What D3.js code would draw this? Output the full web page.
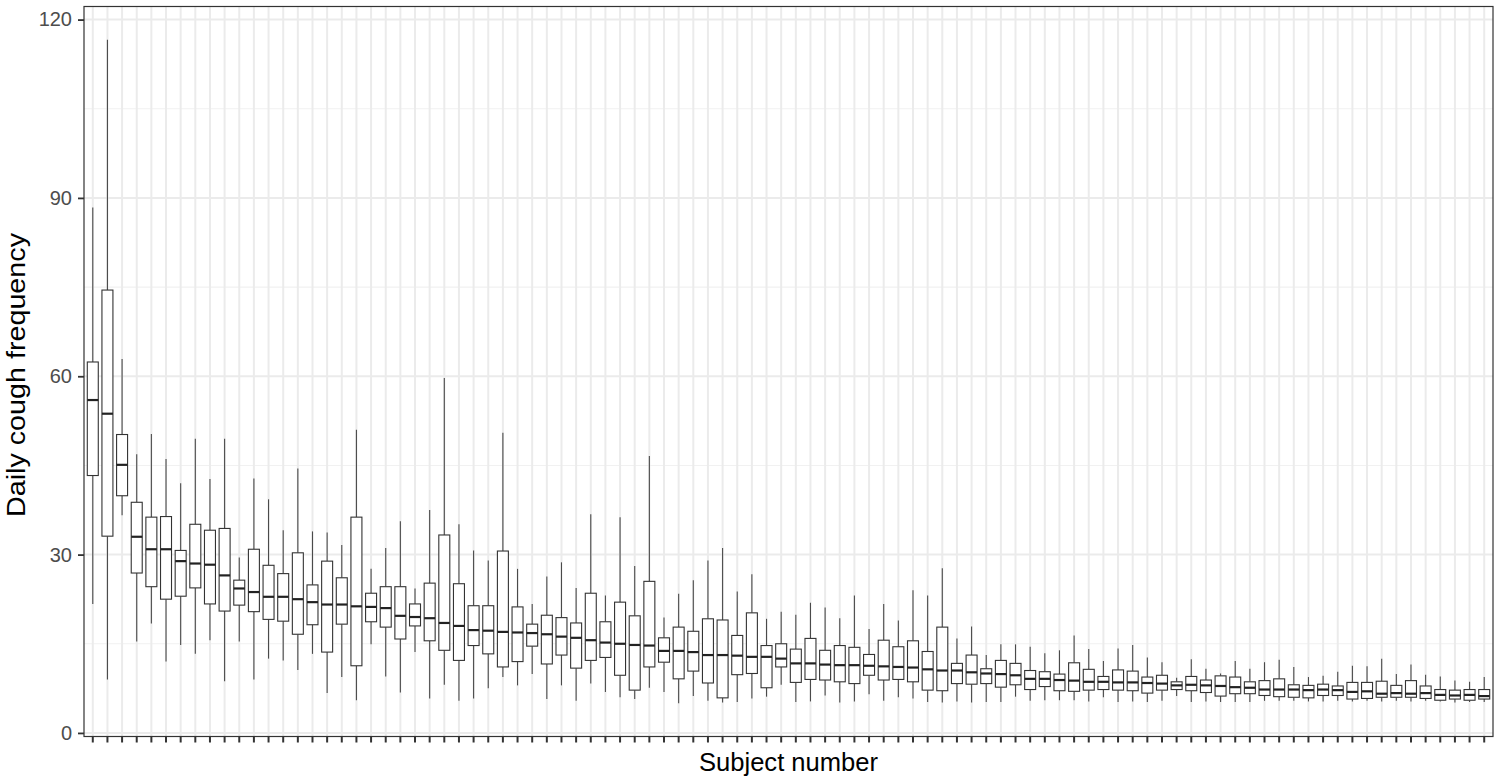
<!DOCTYPE html>
<html>
<head>
<meta charset="utf-8">
<script src="https://cdn.jsdelivr.net/npm/d3@7"></script>
<style>
  html, body { margin: 0; padding: 0; background: #fff; }
  svg { display: block; font-family: "Liberation Sans", Arial, Helvetica, sans-serif; }
</style>
</head>
<body>
<svg id="chart" width="1499" height="784"></svg>
<script>
// ---------------- DATA ----------------
const subjects = [1,2,3,4,5,6,7,8,9,10,11,12,13,14,15,16,17,18,19,20,21,22,23,24,25,26,27,28,29,30,
  31,32,33,34,35,36,37,38,39,40,41,42,43,44,45,46,47,48,49,50,51,52,53,54,55,56,57,58,59,60,
  61,62,63,64,65,66,67,68,69,70,71,72,73,74,75,76,77,78,79,80,81,82,83,84,85,86,87,88,89,90,
  91,92,93,94,95,96];

const whiskerLow = [21.7,9.0,36.6,15.4,18.4,12.0,14.8,13.3,15.6,8.7,15.4,9.0,12.5,12.2,10.6,13.3,6.7,9.4,5.5,14.9,
  9.5,6.8,13.6,5.8,8.1,5.4,5.8,7.5,9.4,8.0,9.9,5.7,8.0,5.4,8.3,6.9,6.0,5.7,7.6,6.9,
  5.0,6.2,5.4,5.1,5.2,5.8,6.1,8.1,5.2,5.3,6.3,5.1,5.3,6.5,5.4,6.0,5.8,5.2,5.1,5.3,
  5.1,5.2,5.2,6.1,5.4,5.5,5.5,5.5,5.3,6.0,5.2,5.3,5.2,5.4,6.2,5.2,5.3,5.2,5.2,5.2,
  5.4,5.4,5.4,5.3,5.3,5.4,5.3,5.4,5.3,5.4,5.3,5.4,5.3,5.1,5.2,5.2];

const q1 = [43.3,33.1,39.9,26.9,24.6,22.5,23.0,24.4,21.7,20.5,21.5,20.4,19.1,18.8,16.6,18.2,13.6,18.3,11.3,18.7,
  17.8,15.8,18.0,15.5,13.9,12.2,14.7,13.3,11.1,12.0,14.6,11.6,13.1,10.9,12.2,12.7,9.7,7.2,11.1,11.9,
  9.1,10.4,8.4,5.9,9.8,10.0,7.6,11.1,8.5,9.0,8.9,8.6,8.3,9.7,8.9,9.0,8.6,7.2,7.1,8.3,
  8.2,8.3,7.7,8.1,7.3,7.8,7.1,7.0,7.2,7.3,7.2,7.1,6.7,7.2,7.3,7.1,6.8,6.2,6.6,6.6,
  6.3,6.1,6.0,5.9,6.3,6.3,5.7,5.8,6.0,6.0,6.0,5.8,5.5,5.7,5.5,5.7];

const median = [56.0,53.7,45.1,33.0,30.9,30.9,28.9,28.5,28.3,26.5,24.3,23.7,22.9,22.9,22.5,22.0,21.6,21.6,21.3,21.2,
  21.0,19.7,19.5,19.3,18.5,18.0,17.3,17.2,17.0,16.9,16.8,16.6,16.2,16.0,15.6,15.2,15.0,14.8,14.7,13.8,
  13.8,13.6,13.1,13.1,13.0,12.8,12.8,12.5,11.7,11.7,11.5,11.4,11.4,11.3,11.2,11.1,11.0,10.7,10.5,10.5,
  10.2,10.0,9.9,9.7,9.1,9.1,8.9,8.8,8.6,8.6,8.5,8.5,8.4,8.3,8.0,8.1,8.0,7.9,7.7,7.6,
  7.3,7.3,7.3,7.2,7.3,7.2,6.9,7.0,6.6,6.7,6.6,6.7,6.4,6.3,6.4,6.2];

const q3 = [62.4,74.5,50.2,38.8,36.3,36.4,30.7,35.1,34.1,34.4,25.7,30.9,28.2,26.8,30.3,24.9,28.9,26.1,36.3,23.5,
  24.6,24.6,21.7,25.2,33.3,25.1,21.4,21.4,30.6,21.2,18.3,19.8,19.4,18.5,23.5,18.7,22.0,19.7,25.5,16.0,
  17.8,17.1,19.2,19.0,16.4,20.2,14.7,15.0,14.1,15.9,13.9,14.7,14.4,13.2,15.6,14.5,15.5,13.7,17.8,11.7,
  13.1,10.8,12.2,11.7,10.5,10.3,9.9,11.8,10.7,9.5,10.6,10.4,9.4,9.7,8.6,9.5,8.9,9.6,9.4,8.6,
  8.8,9.1,8.1,8.0,8.2,7.9,8.5,8.5,8.7,8.0,8.8,7.9,7.3,7.2,7.3,7.3];

const whiskerHigh = [88.4,116.6,62.9,46.9,50.3,46.1,42.0,49.5,42.7,49.5,29.5,42.8,39.3,34.1,44.5,33.9,33.7,31.6,51.0,27.6,
  31.1,35.6,24.3,37.5,59.7,35.1,30.7,29.0,50.5,27.6,21.7,26.3,28.7,24.4,36.8,23.1,36.3,28.1,46.6,19.4,
  23.4,25.7,29.0,31.1,23.8,26.7,19.2,20.4,19.9,21.9,21.1,19.3,23.1,17.5,21.7,18.9,24.0,23.1,27.7,15.9,
  17.9,13.1,14.9,14.9,14.5,13.4,13.9,16.4,14.1,12.1,14.2,14.8,12.7,11.9,9.3,12.4,10.8,10.0,12.1,10.8,
  11.9,12.3,11.1,9.4,9.6,10.3,11.3,11.2,12.5,9.9,11.5,9.8,9.5,8.8,8.6,9.4];

const yTicks = [0, 30, 60, 90, 120];
const yMinorTicks = [15, 45, 75, 105];
const xTitle = "Subject number";
const yTitle = "Daily cough frequency";

// ---------------- LAYOUT ----------------
const svg = d3.select("#chart");
const panel = { left: 84, right: 1493, top: 6.5, bottom: 736.5 };

const x = d3.scaleBand()
  .domain(subjects)
  .range([panel.left, panel.right])
  .paddingInner(0)
  .paddingOuter(0.1);

const y = d3.scaleLinear()
  .domain([-0.6, 122.2])
  .range([panel.bottom, panel.top]);

const boxes = subjects.map((s, i) => ({
  s, lo: whiskerLow[i], q1: q1[i], med: median[i], q3: q3[i], hi: whiskerHigh[i]
}));

// panel background
svg.append("rect")
  .attr("x", panel.left).attr("y", panel.top)
  .attr("width", panel.right - panel.left).attr("height", panel.bottom - panel.top)
  .attr("fill", "#ffffff");

// grid
const grid = svg.append("g");
grid.selectAll("line.minor").data(yMinorTicks).join("line")
  .attr("x1", panel.left).attr("x2", panel.right)
  .attr("y1", d => y(d)).attr("y2", d => y(d))
  .attr("stroke", "#f1f1f1").attr("stroke-width", 1.1);
grid.selectAll("line.majory").data(yTicks).join("line")
  .attr("x1", panel.left).attr("x2", panel.right)
  .attr("y1", d => y(d)).attr("y2", d => y(d))
  .attr("stroke", "#ebebeb").attr("stroke-width", 2);
grid.selectAll("line.majorx").data(subjects).join("line")
  .attr("x1", d => x(d) + x.bandwidth() / 2).attr("x2", d => x(d) + x.bandwidth() / 2)
  .attr("y1", panel.top).attr("y2", panel.bottom)
  .attr("stroke", "#ebebeb").attr("stroke-width", 2);

// boxplots
const bw = x.bandwidth() * 0.75;
const g = svg.append("g");
const bx = g.selectAll("g.box").data(boxes).join("g")
  .attr("transform", d => `translate(${x(d.s) + x.bandwidth() / 2},0)`);

bx.append("line")
  .attr("x1", 0).attr("x2", 0)
  .attr("y1", d => y(d.q3)).attr("y2", d => y(d.hi))
  .attr("stroke", "#4a4a4a").attr("stroke-width", 1.1);
bx.append("line")
  .attr("x1", 0).attr("x2", 0)
  .attr("y1", d => y(d.q1)).attr("y2", d => y(d.lo))
  .attr("stroke", "#4a4a4a").attr("stroke-width", 1.1);
bx.append("rect")
  .attr("x", -bw / 2).attr("width", bw)
  .attr("y", d => y(d.q3)).attr("height", d => y(d.q1) - y(d.q3))
  .attr("fill", "#ffffff").attr("stroke", "#333333").attr("stroke-width", 1.1);
bx.append("line")
  .attr("x1", -bw / 2).attr("x2", bw / 2)
  .attr("y1", d => y(d.med)).attr("y2", d => y(d.med))
  .attr("stroke", "#222222").attr("stroke-width", 2.2);

// panel border
svg.append("rect")
  .attr("x", panel.left).attr("y", panel.top)
  .attr("width", panel.right - panel.left).attr("height", panel.bottom - panel.top)
  .attr("fill", "none").attr("stroke", "#333333").attr("stroke-width", 1.2);

// axes
const yAxis = svg.append("g")
  .attr("transform", `translate(${panel.left},0)`)
  .call(d3.axisLeft(y).tickValues(yTicks).tickSize(6).tickPadding(6));
yAxis.select(".domain").remove();
yAxis.selectAll(".tick line").attr("stroke", "#333333").attr("stroke-width", 1.8);
yAxis.selectAll(".tick text").attr("fill", "#4d4d4d").attr("font-size", 20)
  .attr("font-family", "'Liberation Sans', Arial, sans-serif");

const xAxis = svg.append("g")
  .attr("transform", `translate(0,${panel.bottom})`)
  .call(d3.axisBottom(x).tickSize(6).tickFormat(""));
xAxis.select(".domain").remove();
xAxis.selectAll(".tick line").attr("stroke", "#333333").attr("stroke-width", 2);

// titles
svg.append("text")
  .attr("x", (panel.left + panel.right) / 2).attr("y", 771)
  .attr("text-anchor", "middle").attr("font-size", 25).attr("fill", "#000")
  .attr("textLength", 179).attr("lengthAdjust", "spacingAndGlyphs")
  .text(xTitle);
svg.append("text")
  .attr("transform", `translate(25,375) rotate(-90)`)
  .attr("text-anchor", "middle").attr("font-size", 25).attr("fill", "#000")
  .attr("textLength", 284).attr("lengthAdjust", "spacingAndGlyphs")
  .text(yTitle);
</script>
</body>
</html>
